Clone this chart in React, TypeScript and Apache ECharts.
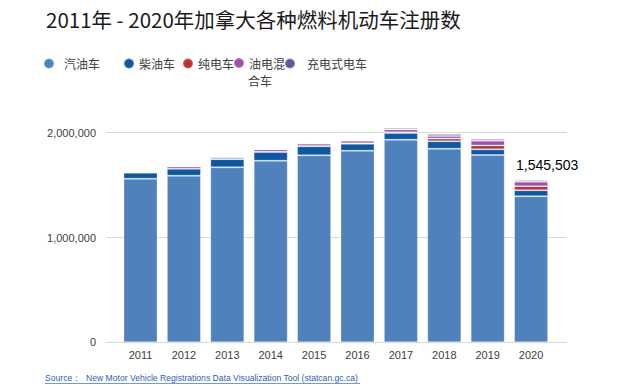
import React, { useEffect, useRef } from "react";
import * as echarts from "echarts";

const years = ["2011", "2012", "2013", "2014", "2015", "2016", "2017", "2018", "2019", "2020"];
const gasoline = [1561000, 1590000, 1670000, 1733000, 1784000, 1828000, 1933000, 1847000, 1787000, 1394000];
const diesel = [58000, 66000, 77000, 84000, 86000, 66000, 64000, 71000, 54000, 57000];
const bev = [500, 1000, 1000, 1500, 2500, 4500, 8000, 26000, 38000, 39000];
const hybrid = [9000, 20000, 18000, 22000, 23000, 24000, 26000, 25000, 44000, 41503];
const phev = [500, 1500, 1500, 2500, 3500, 4500, 14000, 19000, 17000, 14000];
const seriesNames = ["汽油车", "柴油车", "纯电车", "油电混合车", "充电式电车"];
const yTicks = [0, 1000000, 2000000];
const titleText = "2011年 - 2020年加拿大各种燃料机动车注册数";
const sourceText = "Source：  New Motor Vehicle Registrations Data Visualization Tool (statcan.gc.ca)";

const colors = ["#4F81BD", "#0B58A6", "#BF3030", "#A04DAE", "#5B5A9A"];
const CJK = "'Noto Sans CJK SC', 'Noto Sans', sans-serif";
const LAT = "'Liberation Sans', Arial, sans-serif";

export default function App() {
  const ref = useRef<HTMLDivElement>(null);
  useEffect(() => {
    if (!ref.current) return;
    const chart = echarts.init(ref.current, undefined, { renderer: "svg" });
    const totals = years.map((_, i) => gasoline[i] + diesel[i] + bev[i] + hybrid[i] + phev[i]);
    const lastIdx = years.length - 1;
    const dataSets = [gasoline, diesel, bev, hybrid, phev];
    const series = dataSets.map((arr, si) => ({
      name: seriesNames[si],
      type: "bar",
      stack: "total",
      xAxisIndex: 1,
      yAxisIndex: 1,
      barWidth: 34,
      itemStyle: { color: colors[si], borderColor: "rgba(255,255,255,0.25)", borderWidth: 1 },
      data: arr.map((v, i) =>
        si === dataSets.length - 1 && i === lastIdx
          ? {
              value: v,
              label: {
                show: true,
                position: "top",
                offset: [16, -3],
                formatter: () => totals[lastIdx].toLocaleString("en-US"),
                fontSize: 14,
                color: "#000",
                fontFamily: LAT,
              },
            }
          : v
      ),
    }));
    const legendBase = {
      orient: "horizontal",
      icon: "circle",
      itemWidth: 10,
      itemHeight: 10,
      padding: 0,
      selectedMode: false,
      textStyle: { fontSize: 12, color: "#404040", fontFamily: CJK, lineHeight: 13 },
    };
    chart.setOption({
      animation: false,
      backgroundColor: "#fff",
      title: {
        text: titleText,
        left: 46,
        top: 9,
        padding: 0,
        textStyle: { fontSize: 20.5, fontWeight: "normal", color: "#1a1a1a", fontFamily: CJK },
      },
      legend: [
        { ...legendBase, data: [seriesNames[0]], left: 43, top: 57, textStyle: { ...legendBase.textStyle, padding: [0, 0, 0, 5] } },
        { ...legendBase, data: [seriesNames[1]], left: 123, top: 57 },
        { ...legendBase, data: [seriesNames[2]], left: 182, top: 57 },
        {
          ...legendBase,
          data: [seriesNames[3]],
          left: 233,
          top: 56.5,
          formatter: () => "油电混",
        },
        { ...legendBase, data: [seriesNames[4]], left: 284, top: 57, textStyle: { ...legendBase.textStyle, padding: [0, 0, 0, 7] } },
      ],
      grid: [
        { left: 106, right: 57, top: 132.7, bottom: 49.7 },
        { left: 118.8, right: 71.2, top: 80.3, bottom: 49.7 },
      ],
      xAxis: [
        { gridIndex: 0, type: "value", show: false, min: 0, max: 1 },
        {
          gridIndex: 1,
          type: "category",
          data: years,
          axisLine: { show: false },
          axisTick: { show: false },
          axisLabel: { color: "#404040", fontSize: 11, margin: 7, fontFamily: LAT },
        },
      ],
      yAxis: [
        {
          gridIndex: 0,
          type: "value",
          min: yTicks[0],
          max: yTicks[yTicks.length - 1],
          interval: yTicks[1] - yTicks[0],
          axisLine: { show: false },
          axisTick: { show: false },
          axisLabel: {
            color: "#404040",
            fontSize: 11,
            margin: 10,
            fontFamily: LAT,
            formatter: (v: number) => v.toLocaleString("en-US"),
          },
          splitLine: { lineStyle: { color: "#D9D9D9", width: 1 } },
        },
        { gridIndex: 1, type: "value", min: 0, max: 2500000, show: false, splitLine: { show: false } },
      ],
      series,
      graphic: [
        {
          type: "text",
          left: 248,
          top: 74,
          style: { text: "合车", fill: "#404040", font: `12px ${CJK}` },
        },
        {
          type: "text",
          left: 45,
          top: 373,
          style: { text: sourceText, fill: "#1F5FBF", font: `8.6px ${LAT}` },
        },
        {
          type: "line",
          shape: { x1: 45, y1: 383.5, x2: 360, y2: 383.5 },
          style: { stroke: "#6F9BD8", lineWidth: 1 },
        },
      ],
    });
    return () => chart.dispose();
  }, []);
  return (
    <div
      ref={ref}
      style={{ position: "fixed", left: 0, top: 0, width: 624, height: 392, background: "#fff" }}
    />
  );
}
